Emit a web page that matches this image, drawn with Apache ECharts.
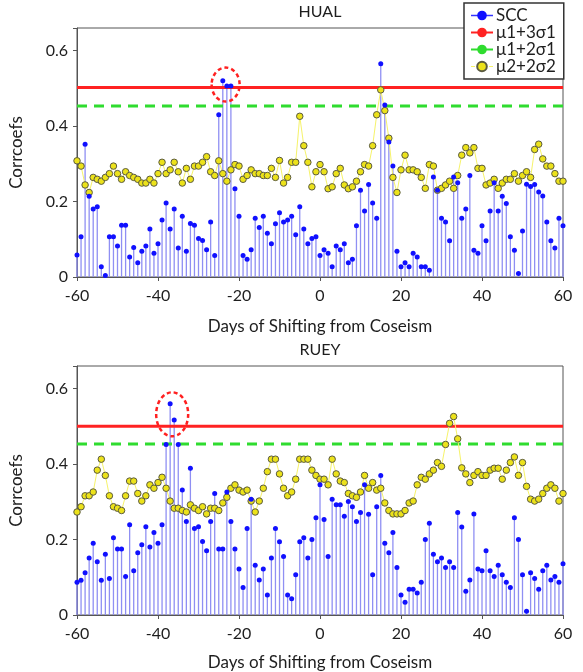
<!DOCTYPE html>
<html>
<head>
<meta charset="utf-8">
<script src="https://cdn.jsdelivr.net/npm/echarts@6/dist/echarts.min.js"></script>
<style>
  html, body { margin: 0; padding: 0; background: #fff; }
  #chart { width: 583px; height: 672px; }
</style>
</head>
<body>
<div id="chart"></div>
<script>
// days shifted from the coseismic date, -60 .. 60
const days = []
for (let d = -60; d <= 60; d++) days.push(d)

const xTicks = [-60, -40, -20, 0, 20, 40, 60]
const yTicks = [0, 0.2, 0.4, 0.6]

const stationNames = ['HUAL', 'RUEY']
const seriesNames = ['SCC', 'μ1+3σ1', 'μ1+2σ1', 'μ2+2σ2']

// HUAL
const hualScc = [
  0.058, 0.107, 0.352, 0.214, 0.180, 0.186, 0.027, 0.004, 0.107, 0.107,
  0.082, 0.137, 0.137, 0.053, 0.078, 0.038, 0.068, 0.082, 0.127, 0.063,
  0.088, 0.151, 0.196, 0.127, 0.180, 0.077, 0.161, 0.068, 0.142, 0.137,
  0.102, 0.097, 0.072, 0.146, 0.057, 0.430, 0.520, 0.506, 0.506, 0.234,
  0.161, 0.057, 0.047, 0.072, 0.156, 0.131, 0.161, 0.116, 0.088, 0.141,
  0.170, 0.146, 0.151, 0.161, 0.112, 0.186, 0.127, 0.088, 0.102, 0.107,
  0.057, 0.072, 0.063, 0.027, 0.082, 0.072, 0.088, 0.038, 0.047, 0.136,
  0.230, 0.175, 0.245, 0.196, 0.156, 0.565, 0.456, 0.358, 0.294, 0.068,
  0.027, 0.038, 0.027, 0.063, 0.053, 0.027, 0.027, 0.018, 0.265, 0.230,
  0.156, 0.146, 0.096, 0.265, 0.250, 0.156, 0.180, 0.269, 0.071, 0.063,
  0.136, 0.096, 0.175, 0.250, 0.175, 0.214, 0.195, 0.107, 0.071, 0.009,
  0.122, 0.246, 0.240, 0.245, 0.225, 0.215, 0.146, 0.096, 0.077, 0.156,
  0.136
]
const hualBand = [
  0.308, 0.294, 0.244, 0.224, 0.264, 0.259, 0.254, 0.264, 0.274, 0.294,
  0.274, 0.259, 0.279, 0.269, 0.264, 0.259, 0.249, 0.249, 0.259, 0.249,
  0.274, 0.304, 0.274, 0.284, 0.304, 0.279, 0.249, 0.288, 0.259, 0.294,
  0.294, 0.304, 0.319, 0.279, 0.269, 0.308, 0.274, 0.254, 0.284, 0.298,
  0.294, 0.259, 0.269, 0.284, 0.274, 0.274, 0.269, 0.269, 0.288, 0.264,
  0.309, 0.249, 0.264, 0.304, 0.304, 0.426, 0.348, 0.304, 0.239, 0.279,
  0.298, 0.279, 0.234, 0.239, 0.274, 0.288, 0.244, 0.234, 0.239, 0.254,
  0.279, 0.298, 0.294, 0.348, 0.430, 0.496, 0.441, 0.368, 0.264, 0.224,
  0.284, 0.323, 0.284, 0.284, 0.279, 0.264, 0.235, 0.298, 0.294, 0.230,
  0.235, 0.244, 0.254, 0.235, 0.269, 0.323, 0.343, 0.329, 0.343, 0.288,
  0.288, 0.244, 0.249, 0.259, 0.235, 0.249, 0.259, 0.259, 0.274, 0.254,
  0.269, 0.279, 0.264, 0.338, 0.352, 0.313, 0.294, 0.294, 0.274, 0.254,
  0.254
]
const hualLimits = [0.502, 0.453]
const hualMarked = [-23.3, 0.51]

// RUEY
const rueyScc = [
  0.087, 0.092, 0.112, 0.151, 0.190, 0.141, 0.092, 0.161, 0.097, 0.205,
  0.175, 0.175, 0.102, 0.239, 0.117, 0.165, 0.186, 0.234, 0.180, 0.219,
  0.190, 0.239, 0.452, 0.560, 0.517, 0.452, 0.331, 0.248, 0.389, 0.229,
  0.234, 0.195, 0.170, 0.248, 0.322, 0.175, 0.175, 0.326, 0.248, 0.175,
  0.122, 0.073, 0.229, 0.307, 0.132, 0.093, 0.122, 0.053, 0.151, 0.229,
  0.194, 0.155, 0.053, 0.043, 0.107, 0.194, 0.205, 0.151, 0.200, 0.258,
  0.345, 0.253, 0.155, 0.307, 0.292, 0.292, 0.262, 0.301, 0.287, 0.248,
  0.272, 0.345, 0.267, 0.107, 0.287, 0.370, 0.190, 0.165, 0.219, 0.126,
  0.053, 0.034, 0.068, 0.068, 0.058, 0.087, 0.200, 0.243, 0.161, 0.141,
  0.151, 0.126, 0.141, 0.126, 0.272, 0.233, 0.063, 0.093, 0.268, 0.122,
  0.117, 0.170, 0.117, 0.102, 0.132, 0.107, 0.087, 0.073, 0.258, 0.200,
  0.107, 0.010, 0.112, 0.097, 0.068, 0.117, 0.132, 0.093, 0.102, 0.087,
  0.136
]
const rueyBand = [
  0.273, 0.287, 0.316, 0.316, 0.326, 0.384, 0.413, 0.370, 0.316, 0.287,
  0.283, 0.277, 0.316, 0.355, 0.355, 0.322, 0.302, 0.316, 0.345, 0.336,
  0.351, 0.365, 0.336, 0.302, 0.283, 0.283, 0.277, 0.273, 0.292, 0.283,
  0.277, 0.287, 0.268, 0.283, 0.283, 0.277, 0.297, 0.312, 0.336, 0.345,
  0.331, 0.326, 0.331, 0.302, 0.273, 0.302, 0.336, 0.380, 0.413, 0.413,
  0.374, 0.336, 0.316, 0.326, 0.360, 0.413, 0.413, 0.413, 0.384, 0.370,
  0.360, 0.360, 0.345, 0.413, 0.374, 0.355, 0.351, 0.322, 0.316, 0.312,
  0.326, 0.370, 0.336, 0.351, 0.331, 0.336, 0.297, 0.277, 0.268, 0.268,
  0.268, 0.277, 0.297, 0.302, 0.345, 0.365, 0.360, 0.374, 0.384, 0.404,
  0.394, 0.452, 0.508, 0.526, 0.467, 0.390, 0.374, 0.351, 0.370, 0.380,
  0.370, 0.370, 0.384, 0.389, 0.389, 0.360, 0.384, 0.404, 0.419, 0.370,
  0.404, 0.341, 0.307, 0.302, 0.307, 0.322, 0.336, 0.345, 0.336, 0.302,
  0.322
]
const rueyLimits = [0.500, 0.453]
const rueyMarked = [-36.5, 0.532]

const FONT = 'Lato, "Noto Sans", sans-serif'
const TEXT = '#1e1e1e'
const AXIS = '#555'

const panels = [
  { scc: hualScc, band: hualBand, limits: hualLimits, marked: hualMarked, top: 28, rx: 14, ry: 17 },
  { scc: rueyScc, band: rueyBand, limits: rueyLimits, marked: rueyMarked, top: 366, rx: 16, ry: 22 }
]

const chart = echarts.init(document.getElementById('chart'))

const grids = []
const xAxes = []
const yAxes = []
const series = []
const titles = []

panels.forEach((p, i) => {
  grids.push({
    left: 77, width: 486, top: p.top, height: 249,
    show: true, borderColor: AXIS, borderWidth: 1, backgroundColor: 'transparent'
  })
  xAxes.push({
    type: 'value', gridIndex: i, min: xTicks[0], max: xTicks[xTicks.length - 1], interval: 20,
    name: 'Days of Shifting from Coseism', nameLocation: 'middle', nameGap: i === 0 ? 41 : 39,
    nameTextStyle: { fontFamily: FONT, fontSize: 17, color: TEXT },
    axisLine: { onZero: false, lineStyle: { color: AXIS, width: 1 } },
    axisTick: { length: 4, lineStyle: { color: AXIS } },
    axisLabel: { margin: 11, fontFamily: FONT, fontSize: 16, color: TEXT },
    splitLine: { show: false }
  })
  yAxes.push({
    type: 'value', gridIndex: i, min: 0, max: 0.66, interval: 0.2,
    name: 'Corrcoefs', nameLocation: 'middle', nameGap: 52,
    nameTextStyle: { fontFamily: FONT, fontSize: 17, color: TEXT },
    axisLine: { show: true, onZero: false, lineStyle: { color: AXIS, width: 1 } },
    axisTick: { show: true, length: 4, lineStyle: { color: AXIS } },
    axisLabel: {
      margin: 9, fontFamily: FONT, fontSize: 16, color: TEXT,
      formatter: (v) => (yTicks.some((t) => Math.abs(t - v) < 1e-6) ? String(+v.toFixed(1)) : '')
    },
    splitLine: { show: false }
  })
  titles.push({
    type: 'text', x: 320, y: p.top - 16,
    style: {
      text: stationNames[i], font: '16px ' + FONT, fill: TEXT,
      textAlign: 'center', align: 'center', textVerticalAlign: 'middle', verticalAlign: 'middle'
    }
  })

  const scc = days.map((d, k) => [d, p.scc[k]])
  const band = days.map((d, k) => [d, p.band[k]])

  // stems
  series.push({
    name: 'SCC stems', type: 'bar', xAxisIndex: i, yAxisIndex: i,
    data: scc, barWidth: 1.3, itemStyle: { color: '#8f8ff3' }, z: 1, silent: true
  })
  series.push({
    name: seriesNames[1], type: 'line', xAxisIndex: i, yAxisIndex: i,
    data: [[xTicks[0], p.limits[0]], [xTicks[xTicks.length - 1], p.limits[0]]],
    symbol: 'none', lineStyle: { color: '#ff2222', width: 3 }, itemStyle: { color: '#ff2222' }, z: 2
  })
  series.push({
    name: seriesNames[2], type: 'line', xAxisIndex: i, yAxisIndex: i,
    data: [[xTicks[0], p.limits[1]], [xTicks[xTicks.length - 1], p.limits[1]]],
    symbol: 'none', lineStyle: { color: '#2fdc2f', width: 3, type: [10, 7] }, itemStyle: { color: '#2fdc2f' }, z: 2
  })
  series.push({
    name: seriesNames[3], type: 'line', xAxisIndex: i, yAxisIndex: i,
    data: band, symbol: 'circle', symbolSize: 6.5, showSymbol: true,
    lineStyle: { color: '#f6f36a', width: 1 },
    itemStyle: { color: '#ece21a', borderColor: '#5a5a40', borderWidth: 1 }, z: 3
  })
  series.push({
    name: seriesNames[0], type: 'line', xAxisIndex: i, yAxisIndex: i,
    data: scc, symbol: 'circle', symbolSize: 5, showSymbol: true,
    lineStyle: { width: 0 }, itemStyle: { color: '#1010ff' }, z: 4
  })
  // dashed ring around the peaks above the threshold
  series.push({
    name: 'marked', type: 'custom', xAxisIndex: i, yAxisIndex: i,
    data: [p.marked], z: 5, silent: true,
    renderItem: (params, api) => {
      const c = api.coord([api.value(0), api.value(1)])
      const rx = p.rx
      const ry = p.ry
      return {
        type: 'path',
        shape: {
          pathData: `M${c[0] - rx},${c[1]} A${rx},${ry} 0 1 0 ${c[0] + rx},${c[1]} A${rx},${ry} 0 1 0 ${c[0] - rx},${c[1]} Z`
        },
        style: { fill: 'none', stroke: '#ff2020', lineWidth: 2.5, lineDash: [4, 3] }
      }
    }
  })
})

chart.setOption({
  animation: false,
  backgroundColor: '#fff',
  textStyle: { fontFamily: FONT },
  grid: grids,
  xAxis: xAxes,
  yAxis: yAxes,
  graphic: titles,
  legend: {
    orient: 'vertical', left: 464, top: 3,
    padding: [4, 8, 4, 6], itemGap: 0, itemWidth: 22, itemHeight: 12,
    backgroundColor: '#fff', borderColor: '#333', borderWidth: 1.5,
    textStyle: { fontFamily: FONT, fontSize: 17, color: TEXT, padding: [0, 0, 0, -2] },
    data: [
      { name: seriesNames[0], lineStyle: { width: 1.5, color: '#3434ff', type: 'solid' } },
      { name: seriesNames[1], lineStyle: { width: 2 } },
      { name: seriesNames[2], lineStyle: { type: 'solid', width: 2 } },
      { name: seriesNames[3], lineStyle: { type: 'dashed', width: 1 } }
    ]
  },
  series: series
})
</script>
</body>
</html>
